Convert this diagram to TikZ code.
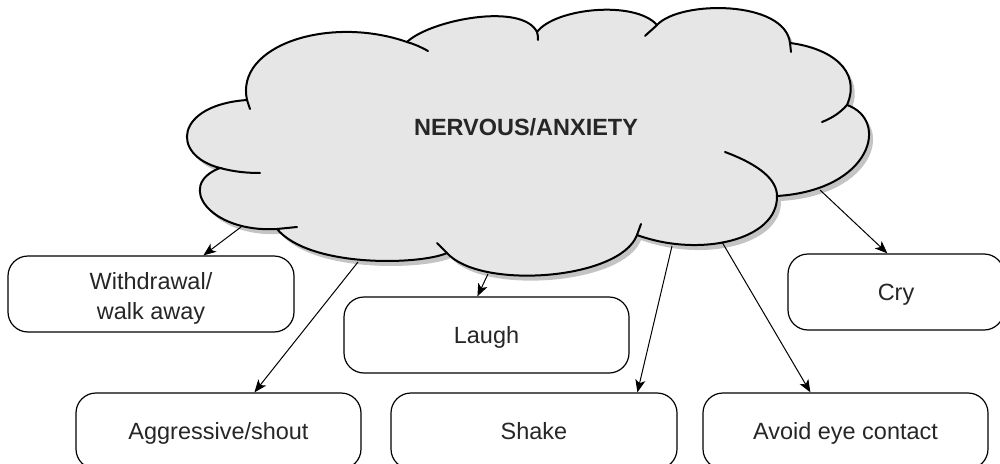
\documentclass[tikz,border=0pt]{standalone}
\usepackage{fontspec}
\setmainfont{Liberation Sans}
\usetikzlibrary{arrows.meta,calc}
\definecolor{cloudfill}{HTML}{E6E6E6}
\definecolor{cloudshadow}{HTML}{C4C4C4}
\definecolor{txt}{HTML}{262626}
\def\cloudpath{(247,100) .. controls (235,45) and (330,15) .. (407,42)
 .. controls (430,20) and (522,2) .. (537,32)
 .. controls (555,8) and (635,0) .. (657,25)
 .. controls (680,0) and (785,0) .. (790,43)
 .. controls (830,48) and (862,70) .. (847,105)
 .. controls (890,120) and (872,190) .. (777,196)
 .. controls (778,240) and (700,258) .. (637,235)
 .. controls (620,280) and (480,290) .. (447,253)
 .. controls (420,265) and (310,268) .. (277,229)
 .. controls (210,233) and (175,185) .. (220,168)
 .. controls (170,155) and (175,105) .. (247,100) -- cycle}
\tikzset{
  boxnode/.style={draw=black, line width=0.9pt, rounded corners=15pt, inner sep=0pt,
    minimum height=57pt, text=txt, align=center,
    font=\fontsize{17.6}{22.5}\selectfont},
  oneline/.style={text height=16.2pt, text depth=3.6pt},
  boxtext/.style={text=txt, align=center, inner sep=0pt,
    font=\fontsize{17.6}{22.5}\selectfont},
  arr/.style={line width=0.75pt, -{Stealth[length=9.5pt,width=7.5pt,inset=2.5pt]}},
  cloudline/.style={line width=1.5pt, line cap=round}
}
\begin{document}
\begin{tikzpicture}[x=0.75pt,y=-0.75pt]
\useasboundingbox (0,0) rectangle (1000,464);
\clip (0,0) rectangle (1000,464);
% cloud
\fill[cloudshadow, shift={(4,5)}] \cloudpath;
\filldraw[fill=cloudfill, draw=black, cloudline] \cloudpath;
% inner tails of the cloud
\draw[cloudline] (247,100) -- (250,109);
\draw[cloudline] (407,42) .. controls (414,44) and (421,47) .. (428,51);
\draw[cloudline] (537,32) .. controls (538,35) and (538,37) .. (538,40);
\draw[cloudline] (657,25) .. controls (653,29) and (649,32) .. (645,36);
\draw[cloudline] (790,43) -- (791,52);
\draw[cloudline] (847,105) .. controls (840,113) and (832,118) .. (822,122);
\draw[cloudline] (725,152) .. controls (760,165) and (777,180) .. (777,196);
\draw[cloudline] (637,235) -- (641,224);
\draw[cloudline] (447,253) -- (437,243);
\draw[cloudline] (277,229) -- (297,227);
\draw[cloudline] (220,168) .. controls (235,172) and (248,173) .. (260,173);
\node[font=\bfseries\fontsize{17.6}{21}\selectfont, text=txt] (title) at (526,127) {NERVOUS/ANXIETY};
% start points on the cloud
\coordinate (s1) at (241,227);
\coordinate (s2) at (358,262);
\coordinate (s3) at (488,274);
\coordinate (s4) at (672,246);
\coordinate (s5) at (722,242);
\coordinate (s6) at (820,190);
% boxes
\node[boxnode, minimum width=214.5pt] (wd) at (151,294) {};
\node[boxtext] (wdtext) at (151,298) {Withdrawal/\\walk away};
\node[boxnode, oneline, minimum width=213.75pt] (ag) at (218.5,431) {Aggressive/shout};
\node[boxnode, oneline, minimum width=213.75pt] (la) at (486.5,335) {Laugh};
\node[boxnode, oneline, minimum width=214.5pt] (sh) at (534,431) {Shake};
\node[boxnode, oneline, minimum width=213.75pt] (av) at (845.5,431) {Avoid eye contact};
\node[boxnode, oneline, minimum width=162pt] (cr) at (896,292) {Cry};
% arrows
\draw[arr] (s1) -- ($(wd.north west)+(196,0)$);
\draw[arr] (s2) -- ($(ag.north west)+(179,0)$);
\draw[arr] (s3) -- ($(la.north west)+(134,0)$);
\draw[arr] (s4) -- ($(sh.north west)+(247,0)$);
\draw[arr] (s5) -- ($(av.north west)+(108,0)$);
\draw[arr] (s6) -- ($(cr.north west)+(100,0)$);
\end{tikzpicture}
\end{document}
